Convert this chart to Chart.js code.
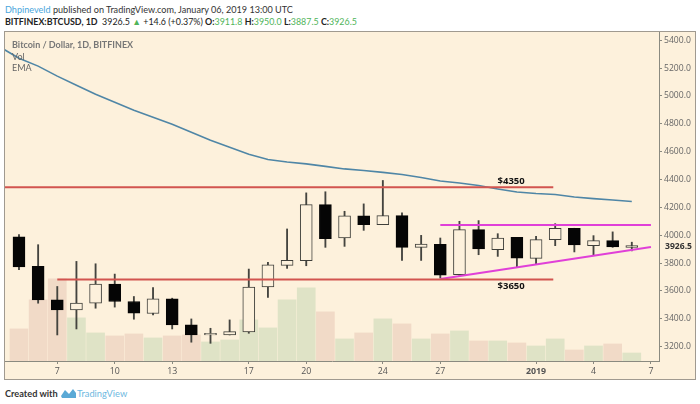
<!DOCTYPE html>
<html><head><meta charset="utf-8">
<script src="https://cdn.jsdelivr.net/npm/chart.js@4"></script>
<style>
html,body{margin:0;padding:0;background:#fff;width:700px;height:404px;overflow:hidden;font-family:"Lato",sans-serif}
.t{position:absolute;white-space:nowrap}
#frame{position:absolute;left:5px;top:32px;width:690px;height:347px;background:#fdf1dc;box-shadow:0 0 0 1px #a09a90}
canvas{position:absolute;left:0;top:0}
.g{color:#4fb45a}
</style></head><body>
<div class="t" style="left:5px;top:4px;font-size:9.1px;color:#333"><span style="color:#4aa6dc">Dhpineveld</span> published on TradingView.com, January 06, 2019 13:00 UTC</div>
<div class="t" style="left:5px;top:16px;font-size:8.9px;color:#222"><b>BITFINEX:BTCUSD, 1D</b>&nbsp; 3926.5 <span class="g">▲</span> +14.6 (+0.37%) <b>O:</b><span class="g">3911.8</span> <b>H:</b><span class="g">3950.0</span> <b>L:</b><span class="g">3887.5</span> <b>C:</b><span class="g">3926.5</span></div>
<div id="frame"><canvas id="c" width="690" height="347"></canvas>
<div class="t" style="left:7px;top:7px;font-size:9px;font-weight:700;color:#777">Bitcoin / Dollar, 1D, BITFINEX</div>
<div class="t" style="left:7px;top:19px;font-size:9px;color:#666">Vol</div>
<div class="t" style="left:7px;top:30px;font-size:9px;color:#666">EMA</div>
</div>
<div class="t" style="left:5px;top:388px;font-size:9.2px;font-weight:700;color:#333">Created with</div>
<svg class="t" style="left:60px;top:387px" width="17" height="12"><path d="M1 9 L5 3 L9 7 L13 2 L16 6 L16 11 L2 11 Z" fill="#5aa9d6"/></svg>
<div class="t" style="left:77px;top:388px;font-size:9.3px;color:#6db8e0">TradingView</div>
<script>
const days=[5,6,7,8,9,10,11,12,13,14,15,16,17,18,19,20,21,22,23,24,25,26,27,28,29,30,31,32,33,34,35,36,37];
const opens=[3988,3776,3536,3464,3512,3649,3524,3438,3543,3356,3284,3284,3306,3628,3783,3817,4220,3980,4139,4076,4141,3913,3934,3716,4040,3896,3985,3834,3968,4050,3925,3961,3911.8];
const closes=[3772,3536,3464,3512,3649,3524,3440,3543,3356,3284,3296,3308,3628,3788,3819,4220,3975,4139,4076,4141,3913,3937,3714,4040,3901,3980,3836,3968,4050,3930,3961,3916,3926.5];
const highs=[4004,3932,3632,3812,3795,3721,3560,3625,3548,3399,3332,3392,3757,3805,4045,4304,4312,4172,4225,4393,4160,3999,3980,4100,4105,4011,3985,3992,4083,4050,3997,4024,3950];
const lows=[3752,3512,3284,3327,3476,3484,3397,3428,3327,3232,3224,3284,3296,3553,3762,3781,3913,3920,4035,4076,3819,3819,3692,3709,3860,3848,3772,3793,3925,3880,3853,3913,3887.5];
const volumes=[3200,6100,8200,4300,2800,2500,2700,2300,2500,2600,1900,2100,4100,3300,6100,7300,4900,2200,2800,4200,3700,2200,2700,3000,2000,2000,1800,1500,2200,1100,1500,1700,800];
const emaDays=[4].concat(days);
const emaValues=[5352,5271,5214,5142,5077,5012,4955,4898,4847,4797,4739,4682,4631,4581,4544,4526,4512,4494,4476,4465,4451,4436,4415,4389,4375,4357,4332,4310,4299,4292,4274,4263,4253,4242];
const priceTicks=[3200,3400,3600,3800,4000,4200,4400,4600,4800,5000,5200,5400];
const dayTicks=[7,10,13,17,20,24,27,32,35,38];
const dayLabels=['7','10','13','17','20','24','27','2019','4','7'];
const resistance=[{x:4,y:4345},{x:32.9,y:4345}];
const support=[{x:7,y:3682},{x:32.9,y:3682}];
const channelTop=[{x:27,y:4074},{x:38,y:4074}];
const channelBottom=[{x:27,y:3685},{x:38,y:3916}];
const levelNotes=[{text:'$4350',x:30.7,y:4345,dy:-6},{text:'$3650',x:30.7,y:3682,dy:7}];
const lastPrice=3926.5;

const isUp=i=>closes[i]>=opens[i];
const lineSet=(data,color,w)=>({type:'line',data,borderColor:color,borderWidth:w,pointRadius:0,tension:0,yAxisID:'y',order:2});
const notes={id:'notes',afterDraw(ch){
  const c=ch.ctx,X=ch.scales.x,Y=ch.scales.y;
  c.save();c.fillStyle='#111';c.font='bold 9.5px "Open Sans"';c.textAlign='center';c.textBaseline='middle';
  levelNotes.forEach(n=>c.fillText(n.text,X.getPixelForValue(n.x),Y.getPixelForValue(n.y)+n.dy));
  c.fillStyle='#333';c.font='bold 8.6px "Open Sans"';c.textAlign='left';
  c.fillText(lastPrice.toFixed(1),ch.chartArea.right+6,Y.getPixelForValue(lastPrice)+1);
  c.restore();
}};
new Chart(document.getElementById('c'),{
  type:'bar',
  data:{datasets:[
    {label:'Vol',data:days.map((d,i)=>({x:d,y:volumes[i]})),yAxisID:'v',barThickness:18,grouped:false,order:10,
      backgroundColor:days.map((d,i)=>isUp(i)?'#dfe3c6':'#f1dac7')},
    {label:'Wick',data:days.map((d,i)=>({x:d,y:[lows[i],highs[i]]})),yAxisID:'y',barThickness:1.2,grouped:false,order:5,backgroundColor:'#44443f'},
    lineSet(resistance,'#d2544f',2),
    lineSet(support,'#d2544f',2),
    {type:'line',label:'EMA',data:emaDays.map((d,i)=>({x:d,y:emaValues[i]})),borderColor:'#4f86a6',borderWidth:1.6,pointRadius:0,tension:0,yAxisID:'y',order:3},
    {label:'Body',data:days.map((d,i)=>({x:d,y:[opens[i],closes[i]]})),yAxisID:'y',barThickness:12,grouped:false,order:4,
      backgroundColor:days.map((d,i)=>isUp(i)?'#fdf1dc':'#050505'),borderColor:days.map((d,i)=>isUp(i)?'#3f3f3a':'#050505'),borderWidth:1,borderSkipped:false},
    lineSet(channelTop,'#e040d8',2),
    lineSet(channelBottom,'#e040d8',2)
  ]},
  options:{
    responsive:false,animation:false,
    layout:{padding:0},
    plugins:{legend:{display:false},tooltip:{enabled:false}},
    scales:{
      x:{type:'linear',offset:false,min:4.27,max:38.42,
        afterBuildTicks(s){s.ticks=dayTicks.map(v=>({value:v}));},
        afterFit(s){s.height=18;s.paddingLeft=0;s.paddingRight=0;},
        grid:{offset:false,drawOnChartArea:false,drawTicks:true,tickLength:3,color:'#8a8a80'},
        border:{display:true,color:'#8a8a80'},
        ticks:{autoSkip:false,maxRotation:0,padding:2,color:'#555',
          font:c=>({family:'"Open Sans"',size:8.8,weight:dayLabels[c.index]==='2019'?'bold':'normal'}),
          callback:(v,i)=>dayLabels[i]}},
      y:{type:'linear',position:'right',min:3097,max:5459,
        afterBuildTicks(s){s.ticks=priceTicks.map(v=>({value:v}));},
        afterFit(s){s.width=36;s.paddingTop=0;s.paddingBottom=0;},
        grid:{drawOnChartArea:false,drawTicks:true,tickLength:3,color:'#8a8a80'},
        border:{display:true,color:'#8a8a80'},
        ticks:{padding:2,color:'#666',font:{family:'"Open Sans"',size:8.6},callback:v=>v.toFixed(1)}},
      v:{type:'linear',display:false,min:0,max:32800}
    }
  },
  plugins:[notes]
});
</script>
</body></html>
